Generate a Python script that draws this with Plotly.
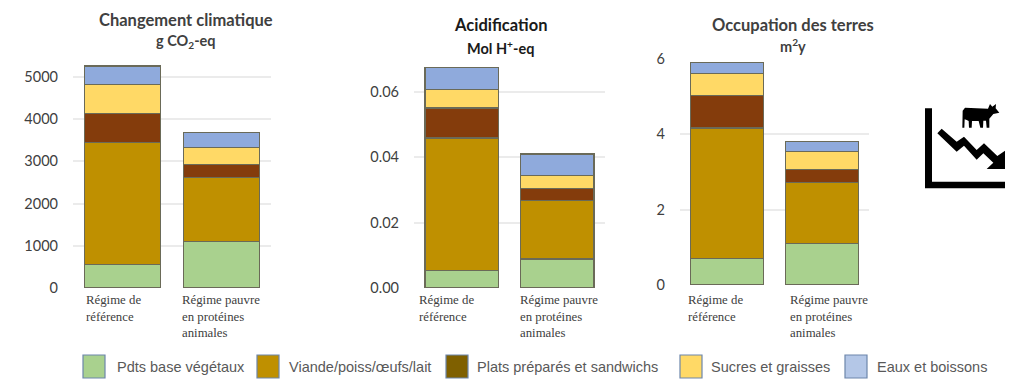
import plotly.graph_objects as go

W, H = 1024, 392

categories = ["Régime de référence", "Régime pauvre en protéines animales"]
category_labels = ["Régime de<br>référence", "Régime pauvre<br>en protéines<br>animales"]
series_names = ["Pdts base végétaux", "Viande/poiss/œufs/lait", "Plats préparés et sandwichs",
                "Sucres et graisses", "Eaux et boissons"]

climat_vegetal = [563, 1101]
climat_viande = [2876, 1514]
climat_plats = [697, 309]
climat_sucres = [682, 412]
climat_eaux = [444, 357]

acid_vegetal = [0.0053, 0.0089]
acid_viande = [0.0406, 0.0178]
acid_plats = [0.0092, 0.0038]
acid_sucres = [0.0057, 0.0040]
acid_eaux = [0.0068, 0.0065]

terres_vegetal = [0.70, 1.10]
terres_viande = [3.47, 1.63]
terres_plats = [0.87, 0.33]
terres_sucres = [0.58, 0.48]
terres_eaux = [0.28, 0.27]

bar_colors = ["#a9d18e", "#bf9000", "#843c0c", "#ffd966", "#8faadc"]
legend_colors = ["#a9d18e", "#bf9000", "#7f6000", "#ffd966", "#b4c7e7"]

panels = [
    dict(values=[climat_vegetal, climat_viande, climat_plats, climat_sucres, climat_eaux],
         left=73, right=271, y0=288, ytop=56, top=5498, ticks=[0, 1000, 2000, 3000, 4000, 5000],
         fmt=".0f", title="Changement climatique", unit="g CO<sub>2</sub>-eq", tx=186, ty=20, uy=42,
         color="#404040", lx=[84, 180]),
    dict(values=[acid_vegetal, acid_viande, acid_plats, acid_sucres, acid_eaux],
         left=414, right=605, y0=288, ytop=60, top=0.0698, ticks=[0, 0.02, 0.04, 0.06],
         fmt=".2f", title="Acidification", unit="Mol H<sup>+</sup>-eq", tx=500, ty=25, uy=47,
         color="#1a1a1a", lx=[417, 518]),
    dict(values=[terres_vegetal, terres_viande, terres_plats, terres_sucres, terres_eaux],
         left=680, right=869, y0=285, ytop=59, top=6, ticks=[0, 2, 4, 6],
         fmt=".0f", title="Occupation des terres", unit="m<sup>2</sup>y", tx=793, ty=25, uy=46,
         color="#404040", lx=[686, 788]),
]


def px(x):
    return x / W


def py(y):
    return 1 - y / H


fig = go.Figure()
annotations = []
shapes = []
layout = {}

for i, p in enumerate(panels):
    suffix = "" if i == 0 else str(i + 1)
    for name, vals, col in zip(series_names, p["values"], bar_colors):
        fig.add_trace(go.Bar(
            x=categories, y=vals, name=name, marker=dict(color=col, line=dict(color="#6a6a58", width=1.2)),
            xaxis="x" + suffix, yaxis="y" + suffix, showlegend=False,
        ))
    layout["xaxis" + suffix] = dict(
        domain=[px(p["left"]), px(p["right"])], anchor="y" + suffix, range=[-0.5, 1.5], automargin=False,
        showticklabels=False, showgrid=False, zeroline=False, showline=False, ticks="",
    )
    layout["yaxis" + suffix] = dict(
        domain=[py(p["y0"]), py(p["ytop"])], anchor="x" + suffix, range=[0, p["top"]], automargin=False,
        tickvals=p["ticks"], tickformat=p["fmt"], showline=False, zeroline=False,
        showgrid=True, gridcolor="#ebebeb", gridwidth=1.5, ticks="", ticklabelstandoff=14,
        tickfont=dict(family="Lato", size=14.5, color="#404040"),
    )
    annotations.append(dict(text="<b>%s</b>" % p["title"], x=px(p["tx"]), y=py(p["ty"]), xref="paper", yref="paper",
                            showarrow=False, xanchor="center", yanchor="middle",
                            font=dict(family="Lato", size=16.5, color=p["color"])))
    annotations.append(dict(text="<b>%s</b>" % p["unit"], x=px(p["tx"]), y=py(p["uy"]), xref="paper", yref="paper",
                            showarrow=False, xanchor="center", yanchor="middle",
                            font=dict(family="Lato", size=14.5, color=p["color"])))
    for lx, label in zip(p["lx"], category_labels):
        annotations.append(dict(text=label, x=px(lx), y=py(291), xref="paper", yref="paper",
                                showarrow=False, xanchor="left", yanchor="top", align="left",
                                font=dict(family="Liberation Serif", size=12.8, color="#404040")))

# Legend
swatches = [83, 257, 446, 680, 845]
texts = [115, 287, 475, 709, 875]
for sx, tx, name, col in zip(swatches, texts, series_names, legend_colors):
    shapes.append(dict(type="rect", xref="paper", yref="paper", x0=px(sx), x1=px(sx + 22), y0=py(378), y1=py(355),
                       fillcolor=col, line=dict(color="#6d86ab", width=1.2)))
    annotations.append(dict(text=name, x=px(tx), y=py(367), xref="paper", yref="paper", showarrow=False,
                            xanchor="left", yanchor="middle",
                            font=dict(family="Liberation Sans", size=14.5, color="#595959")))


# Pictogram (zoom-grid coordinates converted to page pixels, then to paper)
def icon_path(points, close=True):
    coords = [(px(910 + a / 3), py(90 + b / 3)) for a, b in points]
    d = "M " + " L ".join("%.5f %.5f" % c for c in coords)
    return d + (" Z" if close else "")


icon_shapes = [
    [(45, 55), (66, 55), (66, 275), (285, 275), (285, 295), (45, 295)],
    [(82, 130), (95, 116), (140, 155), (162, 140), (200, 180), (222, 160), (262, 198), (285, 182), (285, 237),
     (230, 237), (250, 218), (220, 190), (200, 209), (162, 167), (140, 185)],
    [(158, 62), (165, 53), (234, 56), (240, 42), (247, 50), (258, 42), (257, 55), (268, 68), (250, 72), (238, 86),
     (238, 113), (230, 113), (228, 92), (220, 92), (219, 113), (211, 113), (206, 93), (186, 93), (185, 113),
     (177, 113), (176, 93), (170, 90), (164, 88), (163, 113), (157, 113)],
]
for pts in icon_shapes:
    shapes.append(dict(type="path", xref="paper", yref="paper", path=icon_path(pts), fillcolor="black",
                       line=dict(width=0)))

fig.update_layout(
    width=W, height=H, margin=dict(l=0, r=0, t=0, b=0), autosize=False,
    paper_bgcolor="white", plot_bgcolor="white", barmode="stack", bargap=0.23,
    showlegend=False, annotations=annotations, shapes=shapes, **layout,
)

fig.write_html("out.html", config={"displayModeBar": False},
               post_script="document.body.style.margin='0';document.body.style.overflow='hidden';")
